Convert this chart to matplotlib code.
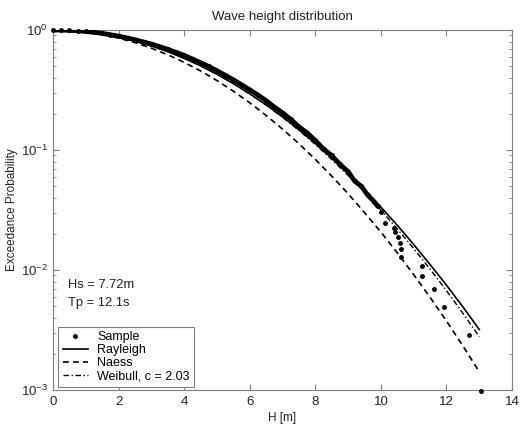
import numpy as np
import matplotlib
matplotlib.use('Agg')
import matplotlib.pyplot as plt
from matplotlib.ticker import LogLocator, FixedLocator

plt.rcParams['font.family'] = ['Liberation Sans', 'DejaVu Sans']
plt.rcParams['mathtext.fontset'] = 'custom'
plt.rcParams['mathtext.rm'] = 'Liberation Sans'

# Sample: empirical exceedance (dense part read along the band)
sample_h = [0.0, 0.25, 0.5, 0.75, 1.0, 1.25, 1.5, 1.75, 2.0, 2.25, 2.5, 2.75,
            3.0, 3.25, 3.5, 3.75, 4.0, 4.25, 4.5, 4.75, 5.0, 5.25, 5.5, 5.75,
            6.0, 6.25, 6.5, 6.75, 7.0, 7.25, 7.5, 7.75, 8.0, 8.25, 8.5, 8.75,
            9.0, 9.2, 9.4, 9.6, 9.8, 9.9]
sample_p = [1.0, 0.998, 0.993, 0.985, 0.972, 0.957, 0.937, 0.914, 0.889, 0.861,
            0.830, 0.797, 0.764, 0.727, 0.690, 0.652, 0.615, 0.574, 0.534,
            0.497, 0.458, 0.420, 0.385, 0.350, 0.318, 0.287, 0.258, 0.228,
            0.204, 0.180, 0.156, 0.139, 0.120, 0.102, 0.090, 0.076, 0.066,
            0.055, 0.050, 0.042, 0.037, 0.034]
# Sample: sparse tail
tail_h = [10.0, 10.12, 10.39, 10.44, 10.51, 10.59, 10.61, 10.61, 11.25, 11.25,
          11.63, 11.92, 12.70, 13.06]
tail_p = [0.0306, 0.0248, 0.0225, 0.0206, 0.0187, 0.0167, 0.0150, 0.0129,
          0.0108, 0.00886, 0.0069, 0.0049, 0.0029, 0.00099]

# Model curves, read at H = 0, 0.5, ..., 13
model_h = [0.0, 0.5, 1.0, 1.5, 2.0, 2.5, 3.0, 3.5, 4.0, 4.5, 5.0, 5.5, 6.0,
           6.5, 7.0, 7.5, 8.0, 8.5, 9.0, 9.5, 10.0, 10.5, 11.0, 11.5, 12.0,
           12.5, 13.0]
rayleigh_p = [1.0, 0.9915, 0.9666, 0.9264, 0.8728, 0.8086, 0.7364, 0.6594,
              0.5804, 0.5023, 0.4274, 0.3575, 0.2941, 0.2378, 0.1890, 0.1477,
              0.1135, 0.0857, 0.0637, 0.0465, 0.0334, 0.0236, 0.0163, 0.0111,
              0.00747, 0.00493, 0.00319]
naess_p = [1.0, 0.9903, 0.9619, 0.9164, 0.8562, 0.7847, 0.7052, 0.6217,
           0.5375, 0.4558, 0.3791, 0.3092, 0.2474, 0.1941, 0.1494, 0.1128,
           0.0835, 0.0606, 0.0432, 0.0301, 0.0207, 0.0139, 0.00914, 0.00591,
           0.00375, 0.00233, 0.00142]
weibull_p = [1.0, 0.9921, 0.9683, 0.9292, 0.8766, 0.8129, 0.7409, 0.6635,
             0.5840, 0.5050, 0.4291, 0.3583, 0.2937, 0.2367, 0.1873, 0.1456,
             0.1112, 0.0834, 0.0614, 0.0444, 0.0316, 0.0220, 0.0151, 0.01017,
             0.00672, 0.00436, 0.00278]

fig = plt.figure(figsize=(5.22, 4.26), dpi=100)
ax = fig.add_axes([0.1015, 0.0845, 0.8795, 0.8451])

ax.plot(model_h, rayleigh_p, color='black', lw=1.2, ls='-', label='Rayleigh', zorder=2)
ax.plot(model_h, naess_p, color='black', lw=1.2, ls=(0, (3.5, 2.5)), label='Naess', zorder=2)
ax.plot(model_h, weibull_p, color='black', lw=1.0, ls=(0, (4, 1.8, 1, 1.8)),
        label='Weibull, c = 2.03', zorder=2)

# dense sample band
ax.plot(sample_h, sample_p, color='black', lw=3.4, solid_capstyle='round', zorder=3)
all_h = sample_h + tail_h
all_p = sample_p + tail_p
ax.plot(all_h, all_p, 'k.', ms=5, label='Sample', zorder=4, clip_on=False)

ax.set_yscale('log')
ax.set_xlim(0, 14)
ax.set_ylim(1e-3, 1)
ax.xaxis.set_major_locator(FixedLocator(np.arange(0, 15, 2)))
ax.yaxis.set_major_locator(LogLocator(base=10, numticks=10))
ax.yaxis.set_minor_locator(LogLocator(base=10, subs=np.arange(2, 10), numticks=20))

for s in ax.spines.values():
    s.set_color('#7f7f7f')
    s.set_linewidth(0.8)
ax.tick_params(which='both', direction='in', top=True, right=True,
               color='#7f7f7f', labelsize=9.5, labelcolor='#222222')
ax.tick_params(which='major', length=4)
ax.tick_params(which='minor', length=2)
ax.tick_params(axis='x', pad=4)

ax.set_title('Wave height distribution', fontsize=9.5, pad=7, color='#222222')
ax.set_xlabel('H [m]', fontsize=8.5, color='#222222', labelpad=3)
ax.set_ylabel('Exceedance Probability', fontsize=8.5, color='#222222', labelpad=2)

ax.text(0.033, 0.292, 'Hs = 7.72m', transform=ax.transAxes, fontsize=9.3,
        va='center', color='#222222')
ax.text(0.033, 0.242, 'Tp = 12.1s', transform=ax.transAxes, fontsize=9.3,
        va='center', color='#222222')

handles, labels = ax.get_legend_handles_labels()
order = [labels.index(n) for n in ['Sample', 'Rayleigh', 'Naess', 'Weibull, c = 2.03']]
leg = ax.legend([handles[i] for i in order], [labels[i] for i in order],
                loc='lower left', bbox_to_anchor=(0.012, 0.008), fontsize=9,
                handlelength=2.0, handletextpad=0.75, labelspacing=0.1,
                borderpad=0.35, borderaxespad=0, fancybox=False, framealpha=1)
leg.get_frame().set_edgecolor('#7f7f7f')
leg.get_frame().set_linewidth(0.8)

fig.savefig('out.png', dpi=100)
